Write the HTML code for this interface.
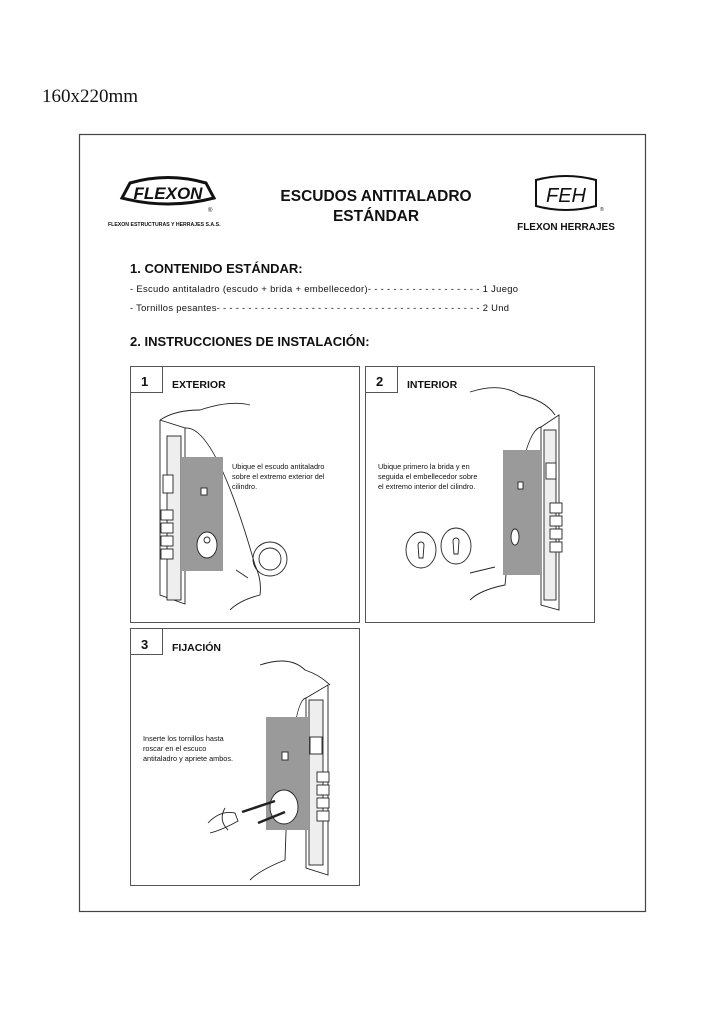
<!DOCTYPE html>
<html><head><meta charset="utf-8"><style>
body{margin:0;background:#fff;}
svg{display:block}
text{font-family:"Liberation Sans",sans-serif;fill:#111}
</style></head><body>
<svg width="724" height="1024" viewBox="0 0 724 1024" xmlns="http://www.w3.org/2000/svg">
<text x="42" y="102" style="font-family:'Liberation Serif',serif" font-size="19" fill="#333">160x220mm</text>
<rect x="79.5" y="134.5" width="566" height="777" fill="none" stroke="#444" stroke-width="1.2"/>
<!-- FLEXON logo -->
<path d="M122 198 L130 183 Q168 172 206 183 L214 198 Q168 210 122 198 Z" fill="none" stroke="#111" stroke-width="3"/>
<text x="168" y="199" font-size="17" font-weight="bold" text-anchor="middle" font-style="italic">FLEXON</text>
<text x="208" y="212" font-size="6">®</text>
<text x="108" y="226" font-size="5.2" font-weight="bold">FLEXON ESTRUCTURAS Y HERRAJES S.A.S.</text>
<!-- Title -->
<text x="376" y="201" font-size="15.5" font-weight="bold" text-anchor="middle">ESCUDOS ANTITALADRO</text>
<text x="376" y="221" font-size="15.5" font-weight="bold" text-anchor="middle">ESTÁNDAR</text>
<!-- FEH logo -->
<path d="M536 180 Q566 172 596 180 L596 206 Q566 214 536 206 Z" fill="none" stroke="#111" stroke-width="2"/>
<text x="566" y="202" font-size="20" font-style="italic" text-anchor="middle">FEH</text>
<text x="600" y="211" font-size="5">®</text>
<text x="566" y="230" font-size="10" font-weight="bold" text-anchor="middle">FLEXON HERRAJES</text>
<!-- Section 1 -->
<text x="130" y="273" font-size="13" font-weight="bold">1. CONTENIDO ESTÁNDAR:</text>
<text x="130" y="292" font-size="9.4" fill="#222" textLength="388" lengthAdjust="spacing">- Escudo antitaladro (escudo + brida + embellecedor)- - - - - - - - - - - - - - - - - - 1 Juego</text>
<text x="130" y="311" font-size="9.4" fill="#222" textLength="379" lengthAdjust="spacing">- Tornillos pesantes- - - - - - - - - - - - - - - - - - - - - - - - - - - - - - - - - - - - - - - - - - 2 Und</text>
<text x="130" y="346" font-size="13" font-weight="bold">2. INSTRUCCIONES DE INSTALACIÓN:</text>

<g fill="none" stroke="#555" stroke-width="1">
<rect x="130.5" y="366.5" width="229" height="256"/>
<rect x="130.5" y="366.5" width="32" height="26"/>
<rect x="365.5" y="366.5" width="229" height="256"/>
<rect x="365.5" y="366.5" width="32" height="26"/>
<rect x="130.5" y="628.5" width="229" height="257"/>
<rect x="130.5" y="628.5" width="32" height="26"/>
</g>
<text x="141" y="386" font-size="13" font-weight="bold">1</text>
<text x="172" y="388" font-size="10.5" font-weight="bold">EXTERIOR</text>
<text x="376" y="386" font-size="13" font-weight="bold">2</text>
<text x="407" y="388" font-size="10.5" font-weight="bold">INTERIOR</text>
<text x="141" y="649" font-size="13" font-weight="bold">3</text>
<text x="172" y="651" font-size="10.5" font-weight="bold">FIJACIÓN</text>

<!-- drawing 1 -->
<g stroke="#222" stroke-width="0.9" fill="none">
<path d="M160 420 Q175 410 200 410 Q230 400 250 405"/>
<path d="M160 420 L160 595 L185 604 L185 428 L160 420"/>
<path d="M185 428 Q215 425 255 565 Q262 580 260 595 Q240 600 230 610"/>
<rect x="167" y="436" width="14" height="164" fill="#eee"/>
<rect x="181" y="457" width="42" height="114" fill="#9a9a9a" stroke="none"/>
<rect x="201" y="488" width="6" height="7" fill="#fff"/>
<rect x="163" y="475" width="10" height="18" fill="#fff"/>
<rect x="161" y="510" width="12" height="10" fill="#fff"/>
<rect x="161" y="523" width="12" height="10" fill="#fff"/>
<rect x="161" y="536" width="12" height="10" fill="#fff"/>
<rect x="161" y="549" width="12" height="10" fill="#fff"/>
<ellipse cx="207" cy="545" rx="10" ry="13" fill="#fff"/>
<circle cx="207" cy="540" r="3"/>
<circle cx="270" cy="559" r="17"/>
<circle cx="270" cy="559" r="11"/>
<path d="M236 570 L248 578"/>
</g>
<text font-size="7.3" fill="#333"><tspan x="232" y="469">Ubique el escudo antitaladro</tspan><tspan x="232" y="479">sobre el extremo exterior del</tspan><tspan x="232" y="489">cilindro.</tspan></text>

<!-- drawing 2 -->
<g stroke="#222" stroke-width="0.9" fill="none">
<path d="M470 392 Q500 382 520 395 Q545 400 555 415"/>
<path d="M541 427 L541 605 L559 610 L559 415 Z"/>
<path d="M541 427 Q520 430 505 585 Q480 590 470 600"/>
<rect x="544" y="430" width="12" height="170" fill="#eee"/>
<rect x="503" y="450" width="38" height="125" fill="#9a9a9a" stroke="none"/>
<rect x="518" y="482" width="5" height="7" fill="#fff"/>
<rect x="546" y="463" width="10" height="16" fill="#fff"/>
<rect x="550" y="503" width="12" height="10" fill="#fff"/>
<rect x="550" y="516" width="12" height="10" fill="#fff"/>
<rect x="550" y="529" width="12" height="10" fill="#fff"/>
<rect x="550" y="542" width="12" height="10" fill="#fff"/>
<ellipse cx="515" cy="537" rx="4" ry="8" fill="#fff"/>
<ellipse cx="421" cy="550" rx="15" ry="18"/>
<ellipse cx="456" cy="546" rx="15" ry="18"/>
<path d="M418 545 a3 3 0 1 1 6 0 l-1 13 h-4 z"/>
<path d="M453 541 a3 3 0 1 1 6 0 l-1 13 h-4 z"/>
<path d="M470 573 L495 567"/>
</g>
<text font-size="7.3" fill="#333"><tspan x="378" y="469">Ubique primero la brida y en</tspan><tspan x="378" y="479">seguida el embellecedor sobre</tspan><tspan x="378" y="489">el extremo interior del cilindro.</tspan></text>

<!-- drawing 3 -->
<g stroke="#222" stroke-width="0.9" fill="none">
<path d="M260 665 Q290 655 305 670 Q320 675 330 685"/>
<path d="M306 698 L306 868 L328 875 L328 685 Z"/>
<path d="M306 698 Q290 700 285 860 Q260 870 250 880"/>
<rect x="309" y="700" width="14" height="165" fill="#eee"/>
<rect x="266" y="717" width="43" height="113" fill="#9a9a9a" stroke="none"/>
<rect x="282" y="752" width="6" height="8" fill="#fff"/>
<rect x="310" y="737" width="12" height="17" fill="#fff"/>
<rect x="317" y="772" width="12" height="10" fill="#fff"/>
<rect x="317" y="785" width="12" height="10" fill="#fff"/>
<rect x="317" y="798" width="12" height="10" fill="#fff"/>
<rect x="317" y="811" width="12" height="10" fill="#fff"/>
<ellipse cx="284" cy="807" rx="14" ry="17" fill="#fff"/>
<path d="M242 812 L275 801" stroke-width="2.5"/>
<path d="M258 823 L285 812" stroke-width="2.5"/>
<path d="M208 823 Q220 810 235 813 L238 821 Q222 830 210 833"/>
<path d="M225 808 Q218 820 228 830"/>
</g>
<text font-size="7.3" fill="#333"><tspan x="143" y="741">Inserte los tornillos hasta</tspan><tspan x="143" y="751">roscar en el escuco</tspan><tspan x="143" y="761">antitaladro y apriete ambos.</tspan></text>
</svg>
</body></html>
